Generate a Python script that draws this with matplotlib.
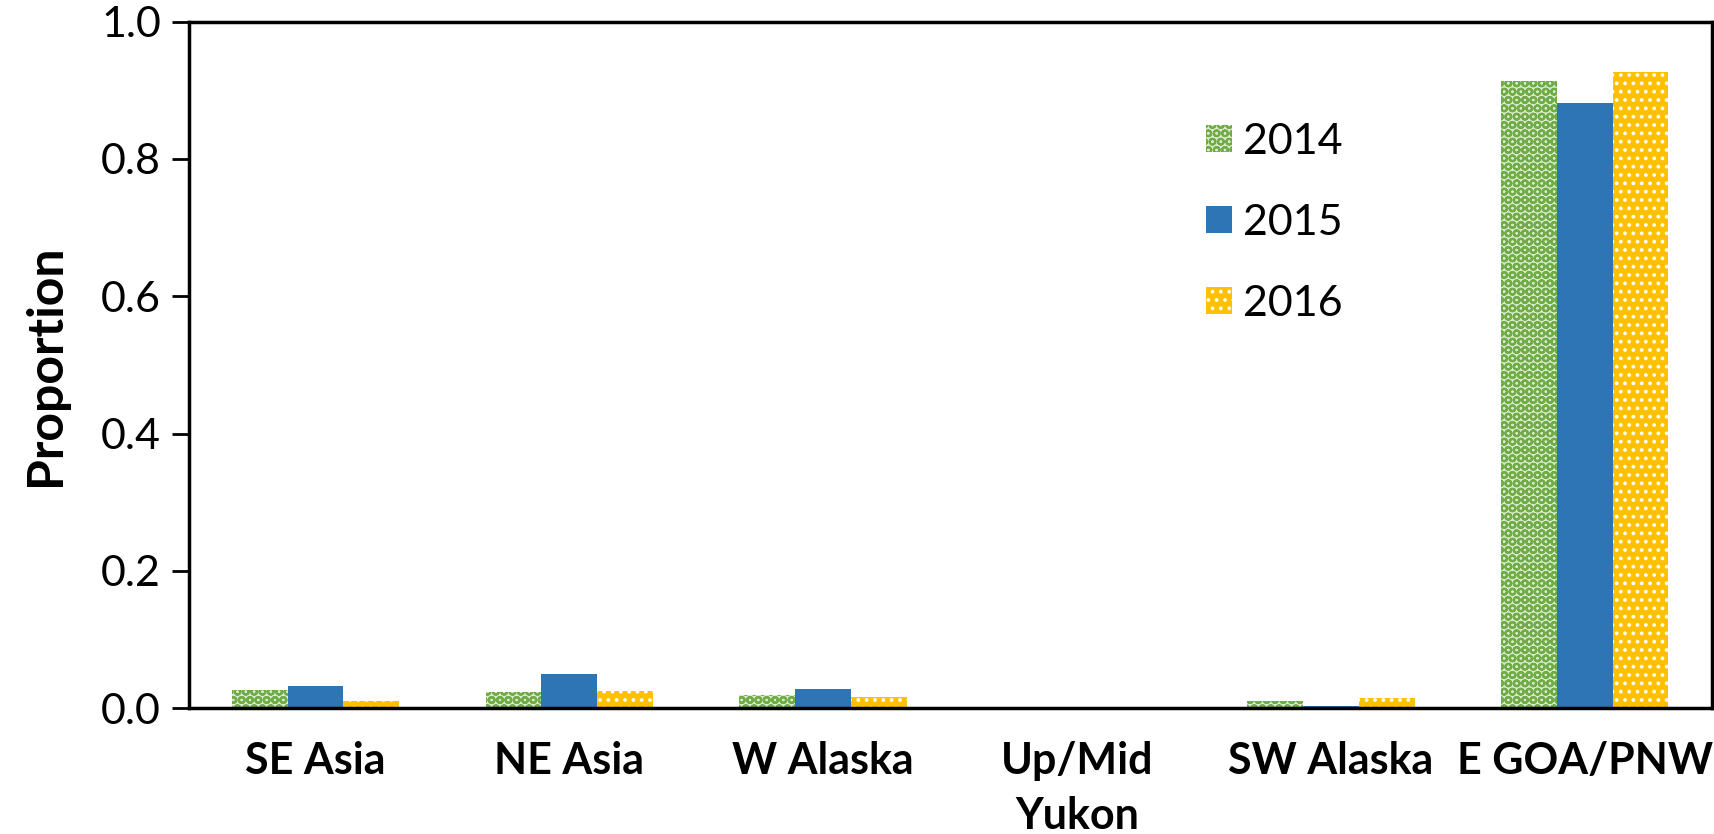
import numpy as np
import matplotlib
matplotlib.use("Agg")
import matplotlib.pyplot as plt

regions = ["SE Asia", "NE Asia", "W Alaska", "Up/Mid\nYukon", "SW Alaska", "E GOA/PNW"]
years = ["2014", "2015", "2016"]
p2014 = [0.026, 0.023, 0.019, 0.0, 0.010, 0.914]
p2015 = [0.032, 0.049, 0.028, 0.0, 0.003, 0.881]
p2016 = [0.010, 0.025, 0.016, 0.0, 0.015, 0.927]
yticks = [0.0, 0.2, 0.4, 0.6, 0.8, 1.0]

plt.rcParams['font.family'] = ['Lato', 'DejaVu Sans']
plt.rcParams['hatch.linewidth'] = 1.6

fig = plt.figure(figsize=(17.15, 8.34), dpi=100)
ax = fig.add_axes([0.110, 0.151, 0.888, 0.823])

x = np.arange(len(regions))
w = 0.22

# 2014: green checker, 2015: solid blue, 2016: gold with white dots
ax.bar(x - w, p2014, w, color='#dcebcf', edgecolor='#70ad47', hatch='OO', linewidth=0, label=years[0])
ax.bar(x, p2015, w, color='#2e75b6', linewidth=0, label=years[1])
plt.rcParams['hatch.linewidth'] = 1.5
ax.bar(x + w, p2016, w, color='#ffc000', edgecolor='white', hatch='..', linewidth=0, label=years[2])

ax.set_xlim(-0.5, len(regions) - 0.5)
ax.set_ylim(0, 1.0)
ax.set_yticks(yticks)
ax.set_yticklabels([f"{t:.1f}" for t in yticks], fontsize=31)
ax.set_xticks(x)
ax.set_xticklabels(regions, fontsize=31, fontweight='bold', linespacing=1.45)
ax.tick_params(axis='x', length=0, pad=24)
ax.tick_params(axis='y', length=12, width=2, direction='out', pad=8)
for s in ax.spines.values():
    s.set_linewidth(2.5)
ax.set_ylabel("Proportion", fontsize=36, fontweight='bold', labelpad=24)

ax.legend(loc='upper left', bbox_to_anchor=(0.668, 0.853), frameon=False, fontsize=31,
          borderpad=0, borderaxespad=0,
          handlelength=0.6, handleheight=0.6, handletextpad=0.25, labelspacing=1.0)

fig.savefig("out.png", dpi=100)
